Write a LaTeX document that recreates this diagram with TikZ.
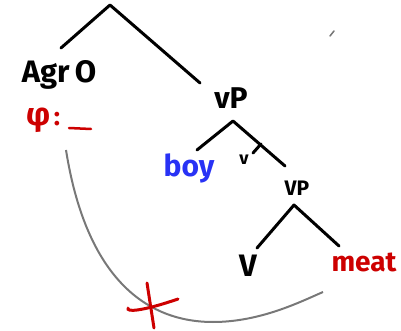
\documentclass[tikz,border=0pt]{standalone}
\usepackage{fontspec}
\setmainfont{Fira Sans}
\definecolor{myred}{RGB}{205,0,0}
\definecolor{myblue}{RGB}{40,50,245}
\definecolor{mygray}{RGB}{120,120,120}
\begin{document}
\begin{tikzpicture}[x=1pt,y=-1pt,
  branch/.style={line width=3pt,line cap=round,line join=round},
  lbl/.style={inner sep=0pt,anchor=center}]
\useasboundingbox (0,0) rectangle (401,331);
% nodes
\node[lbl,font=\fontsize{31}{31}\selectfont\bfseries] (agro) at (59,75) {Agr\,O};
\node[lbl,font=\fontsize{32}{32}\selectfont\bfseries,text=myred] (phi) at (39,120) {φ};
\node[lbl,font=\fontsize{26}{26}\selectfont\bfseries,text=myred] (colon) at (57,119) {:};
\coordinate (us1) at (69,128);
\coordinate (us2) at (91,129);
\node[lbl,font=\fontsize{30}{30}\selectfont\bfseries] (vP) at (231,98) {vP};
\node[lbl,font=\fontsize{30}{30}\selectfont\bfseries,text=myblue] (boy) at (189,168) {boy};
\node[lbl,font=\fontsize{18}{18}\selectfont\bfseries] (v) at (244,160) {v};
\node[lbl,font=\fontsize{21}{21}\selectfont\bfseries] (VP) at (297,188) {VP};
\node[lbl,font=\fontsize{31}{31}\selectfont\bfseries] (V) at (248,266) {V};
\node[lbl,font=\fontsize{28}{28}\selectfont\bfseries,text=myred] (meat) at (364,262) {meat};
% tree coordinates
\coordinate (top) at (110,5);
\coordinate (tl) at (61,48);
\coordinate (tr) at (200,83);
\coordinate (vpa) at (233,121);
\coordinate (vpl) at (197,150);
\coordinate (vpr) at (285,166);
\coordinate (vm) at (261,144);
\coordinate (vb) at (253,153);
\coordinate (VPa) at (294,205);
\coordinate (VPl) at (257,248);
\coordinate (VPr) at (339,246);
\draw[branch] (tl) -- (top) -- (tr);
\draw[branch] (vpl) -- (vpa) -- (vpr);
\draw[branch] (vm) -- (vb);
\draw[branch] (VPl) -- (VPa) -- (VPr);
\draw[line width=2.5pt,line cap=round,myred] (us1) -- (us2);
% movement curve
\coordinate (c1) at (66,150);
\coordinate (c2) at (213,322);
\coordinate (c3) at (323,292);
\draw[mygray,line width=2pt] (c1) .. controls (85,270) and (140,322) .. (c2)
  .. controls (260,322) and (300,302) .. (c3);
% red X
\coordinate (x1) at (128,308);
\coordinate (x2) at (178,299);
\coordinate (x3) at (147,283);
\coordinate (x4) at (154,328);
\draw[myred,line width=3pt,line cap=round] (x1) .. controls (126,312) and (140,312) .. (x2);
\draw[myred,line width=3pt,line cap=round] (x3) -- (x4);
% stray mark
\coordinate (s1) at (330,36);
\coordinate (s2) at (334,31);
\draw[mygray,line width=1.5pt,line cap=round] (s1) -- (s2);
\end{tikzpicture}
\end{document}
